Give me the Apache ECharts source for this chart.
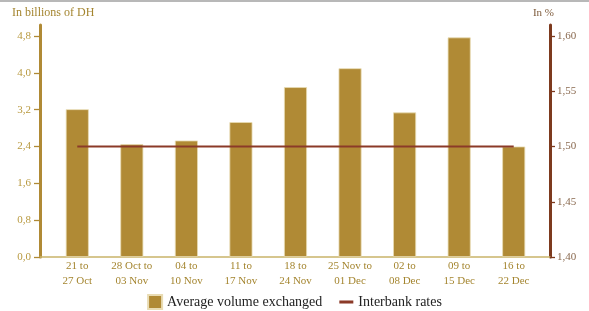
<!DOCTYPE html>
<html><head><meta charset="utf-8">
<script src="https://cdn.jsdelivr.net/npm/echarts@6/dist/echarts.min.js"></script>
<style>html,body{margin:0;padding:0;background:#fff}#c{width:589px;height:311px;box-sizing:border-box;border-top:2px solid #b8b8b8}</style>
</head><body><div id="c"></div>
<script>
const categories = ["21 to\n27 Oct","28 Oct to\n03 Nov","04 to\n10 Nov","11 to\n17 Nov","18 to\n24 Nov","25 Nov to\n01 Dec","02 to\n08 Dec","09 to\n15 Dec","16 to\n22 Dec"];
const volume = [3.21, 2.45, 2.53, 2.93, 3.69, 4.10, 3.14, 4.77, 2.40];
const rates = [1.50, 1.50, 1.50, 1.50, 1.50, 1.50, 1.50, 1.50, 1.50];
const leftTicks = [0, 0.8, 1.6, 2.4, 3.2, 4.0, 4.8];
const rightTicks = [1.40, 1.45, 1.50, 1.55, 1.60];

const gold = '#b08a35', brown = '#7d3a1e', serif = '"Liberation Serif", "DejaVu Serif", serif';
const leftMax = 5.04, rightMax = 1.40 + 0.2 * 5.04 / 4.8;
const chart = echarts.init(document.getElementById('c'), null, {renderer:'canvas'});
chart.setOption({
  animation:false,
  textStyle:{fontFamily:serif},
  grid:[{left:50, right:48, top:23, bottom:54},{left:40, right:39, top:23, bottom:54}],
  legend:{
    bottom:1, left:'center', padding:0, itemGap:17, itemWidth:14, itemHeight:14,
    textStyle:{fontFamily:serif, fontSize:14, color:'#222'},
    data:[{name:'Average volume exchanged', icon:'rect'},
          {name:'Interbank rates', icon:'path://M0,0H12V2.6H0Z', itemStyle:{color:'#8b3a28'}}]
  },
  xAxis:[{
    type:'category', data:categories, gridIndex:0,
    axisLine:{show:false}, axisTick:{show:false},
    axisLabel:{fontFamily:serif, fontSize:11, color:'#a4852f', lineHeight:15, margin:2, interval:0}
  },{
    type:'value', gridIndex:1, min:0, max:1, show:true,
    axisLine:{show:true, onZero:false, lineStyle:{color:'#c9b46a', width:1.5}},
    axisTick:{show:false}, axisLabel:{show:false}, splitLine:{show:false}
  }],
  yAxis:[{
    type:'value', gridIndex:0, min:leftTicks[0], max:leftMax, show:false
  },{
    type:'value', gridIndex:0, min:rightTicks[0], max:rightMax, show:false
  },{
    type:'value', gridIndex:1, min:leftTicks[0], max:leftMax, interval:0.8, position:'left',
    name:'In billions of DH', nameLocation:'end', nameGap:6,
    nameTextStyle:{fontFamily:serif, fontSize:12, color:'#a4852f', align:'left', padding:[0,0,0,-28]},
    axisLine:{show:true, onZero:false, lineStyle:{color:gold, width:3}},
    axisTick:{show:true, inside:false, length:6, lineStyle:{color:gold, width:1.3}},
    axisLabel:{fontFamily:serif, fontSize:11, color:'#b8993f', margin:9, showMaxLabel:false,
      formatter:v=>leftTicks.some(t=>Math.abs(t-v)<1e-6)?v.toFixed(1).replace('.',','):''},
    splitLine:{show:false}
  },{
    type:'value', gridIndex:1, min:rightTicks[0], max:rightMax, interval:0.05, position:'right',
    name:'In %', nameLocation:'end', nameGap:6,
    nameTextStyle:{fontFamily:serif, fontSize:11, color:'#7d5a3a', align:'right', padding:[0,-4,0,0]},
    axisLine:{show:true, onZero:false, lineStyle:{color:brown, width:3}},
    axisTick:{show:true, inside:false, length:5, lineStyle:{color:brown, width:1.3}},
    axisLabel:{fontFamily:serif, fontSize:11, color:'#8a6a50', margin:7, showMaxLabel:false,
      formatter:v=>rightTicks.some(t=>Math.abs(t-v)<1e-6)?v.toFixed(2).replace('.',','):''},
    splitLine:{show:false}
  }],
  series:[{
    name:'Average volume exchanged', type:'bar', xAxisIndex:0, yAxisIndex:0, data:volume,
    barWidth:23, itemStyle:{color:gold, borderColor:'#e9dcb4', borderWidth:0.8}
  },{
    name:'Interbank rates', type:'line', xAxisIndex:0, yAxisIndex:1, data:rates,
    symbol:'none', lineStyle:{color:'#8b3a28', width:2.2}, itemStyle:{color:'#8b3a28'}
  }]
});
</script></body></html>
